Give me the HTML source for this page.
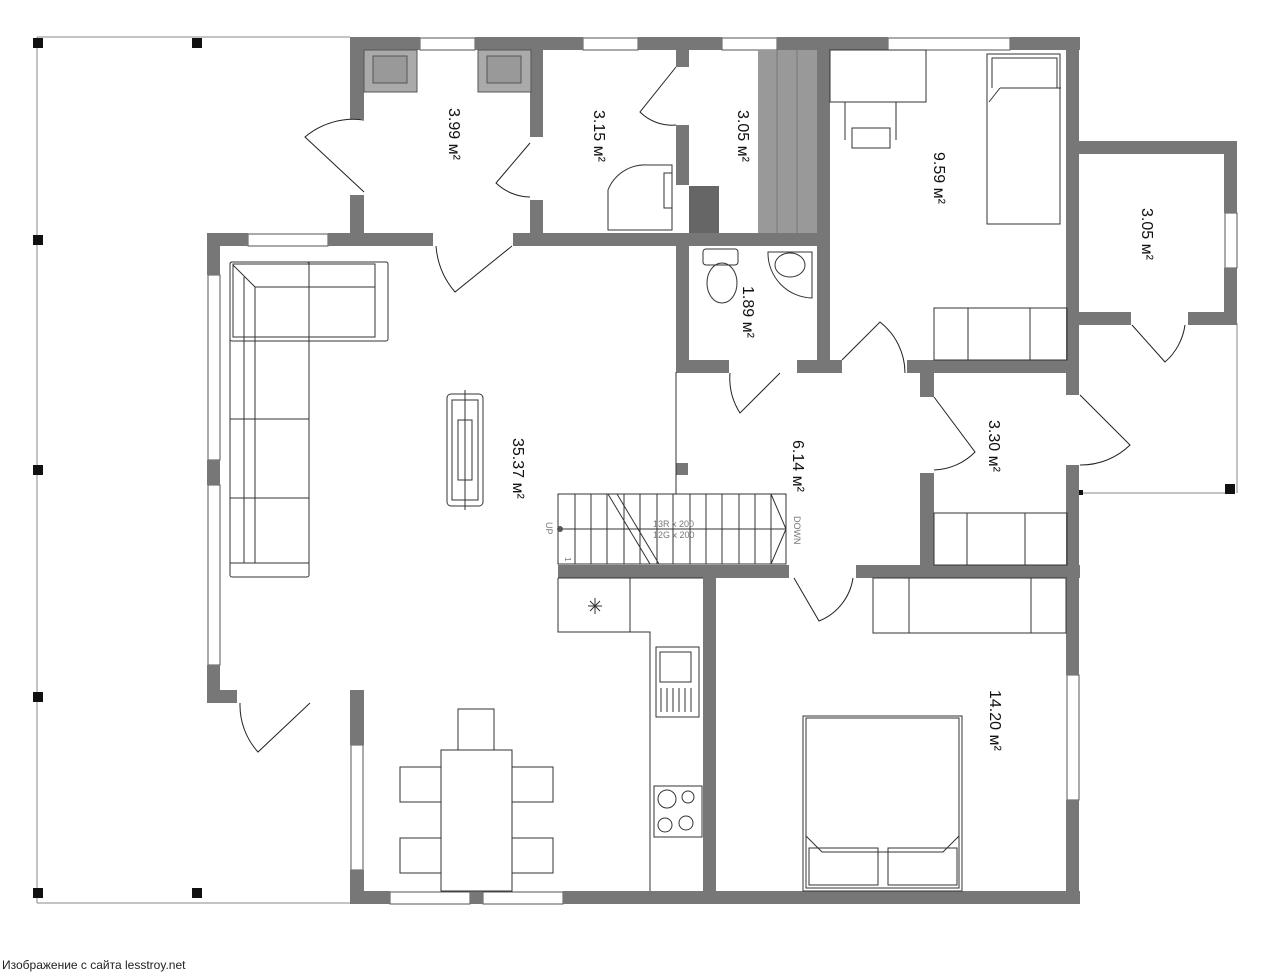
<!DOCTYPE html>
<html><head><meta charset="utf-8"><style>
html,body{margin:0;padding:0;background:#fff;width:1280px;height:977px;overflow:hidden}
svg{display:block}
text{font-family:"Liberation Sans",sans-serif}
</style></head><body>
<svg width="1280" height="977" viewBox="0 0 1280 977" xmlns="http://www.w3.org/2000/svg">
<g stroke="#888" stroke-width="1" fill="none">
<line x1="37" y1="37" x2="350" y2="37"/><line x1="37" y1="37" x2="37" y2="903"/><line x1="37" y1="903" x2="350" y2="903"/>
<line x1="1237" y1="323" x2="1237" y2="493"/><line x1="1080" y1="493" x2="1230" y2="493"/>
</g>
<g fill="#111">
<rect x="33" y="38" width="10" height="10"/><rect x="192" y="38" width="10" height="10"/>
<rect x="33" y="235" width="10" height="10"/><rect x="33" y="465" width="10" height="10"/>
<rect x="33" y="692" width="10" height="10"/><rect x="33" y="888" width="10" height="10"/>
<rect x="192" y="888" width="10" height="10"/><rect x="1225" y="484" width="10" height="10"/>
<rect x="1078" y="490" width="5" height="5"/>
</g>
<g fill="#fff" stroke="#555" stroke-width="1">
<rect x="420" y="38" width="55" height="12"/><rect x="583" y="38" width="55" height="12"/>
<rect x="722" y="38" width="55" height="12"/><rect x="888" y="38" width="122" height="12"/>
<rect x="248" y="234" width="80" height="12"/>
<rect x="208" y="275" width="12" height="185"/><rect x="208" y="485" width="12" height="180"/>
<rect x="351" y="745" width="12" height="125"/>
<rect x="390" y="892" width="80" height="12"/><rect x="483" y="892" width="80" height="12"/>
<rect x="1067" y="675" width="12" height="125"/><rect x="1225" y="213" width="12" height="55"/>
</g>
<g fill="#777">
<rect x="350" y="37" width="70" height="13"/><rect x="475" y="37" width="108" height="13"/>
<rect x="638" y="37" width="84" height="13"/><rect x="777" y="37" width="111" height="13"/>
<rect x="1010" y="37" width="70" height="13"/>
<rect x="350" y="37" width="14" height="82"/><rect x="350" y="195" width="14" height="51"/>
<rect x="207" y="233" width="41" height="13"/><rect x="328" y="233" width="105" height="13"/>
<rect x="513" y="233" width="176" height="13"/>
<rect x="207" y="233" width="13" height="42"/><rect x="207" y="460" width="13" height="25"/>
<rect x="207" y="665" width="13" height="38"/>
<rect x="207" y="690" width="30" height="13"/><rect x="350" y="690" width="14" height="13"/>
<rect x="350" y="690" width="14" height="55"/><rect x="350" y="870" width="14" height="34"/>
<rect x="350" y="891" width="40" height="13"/><rect x="470" y="891" width="13" height="13"/>
<rect x="563" y="891" width="517" height="13"/>
<rect x="1066" y="37" width="13" height="358"/><rect x="1066" y="465" width="13" height="210"/>
<rect x="1066" y="800" width="13" height="104"/>
<rect x="1066" y="141" width="171" height="13"/><rect x="1224" y="141" width="13" height="72"/>
<rect x="1224" y="268" width="13" height="57"/>
<rect x="1066" y="312" width="65" height="13"/><rect x="1188" y="312" width="49" height="13"/>
<rect x="530" y="37" width="13" height="100"/><rect x="530" y="200" width="13" height="46"/>
<rect x="676" y="37" width="13" height="30"/><rect x="676" y="125" width="13" height="60"/>
<rect x="676" y="233" width="13" height="139"/>
<rect x="676" y="233" width="154" height="13"/>
<rect x="817" y="37" width="13" height="335"/>
<rect x="676" y="360" width="53" height="13"/><rect x="797" y="360" width="45" height="13"/>
<rect x="907" y="360" width="172" height="13"/>
<rect x="920" y="372" width="14" height="25"/><rect x="920" y="473" width="14" height="105"/>
<rect x="920" y="565" width="147" height="13"/>
<rect x="558" y="565" width="231" height="13"/><rect x="856" y="565" width="224" height="13"/>
<rect x="703" y="578" width="13" height="313"/>
<rect x="676" y="463" width="12" height="12"/>
</g>
<g fill="#aaa" stroke="#555"><rect x="364" y="50" width="53" height="42"/><rect x="478" y="50" width="53" height="42"/></g>
<g fill="#999" stroke="#555"><rect x="373" y="56" width="34" height="27"/><rect x="487" y="56" width="34" height="27"/></g>
<rect x="758" y="50" width="59" height="183" fill="#999"/>
<g stroke="#777"><line x1="777" y1="50" x2="777" y2="233"/><line x1="797" y1="50" x2="797" y2="233"/></g>
<rect x="689" y="186" width="30" height="47" fill="#666"/>
<g fill="none" stroke="#222" stroke-width="1">
<path d="M364 192 L305 137 A75 75 0 0 1 364 120"/>
<path d="M530 143 L496 183 A50 50 0 0 0 530 197"/>
<path d="M676 67 L640 112 A45 45 0 0 0 676 125"/>
<path d="M436 246 A80 80 0 0 0 455 292 L512 246"/>
<path d="M730 373 A65 65 0 0 0 740 413 L780 373"/>
<path d="M905 373 A65 65 0 0 0 880 322 L842 360"/>
<path d="M934 397 L975 452 A60 60 0 0 1 934 470"/>
<path d="M1080 395 L1130 445 A70 70 0 0 1 1080 465"/>
<path d="M1132 325 L1165 362 A60 60 0 0 0 1185 325"/>
<path d="M794 578 L819 621 A55 55 0 0 0 853 578"/>
<path d="M310 703 L258 752 A70 70 0 0 1 240 703"/>
</g>
<g fill="none" stroke="#333" stroke-width="1">
<rect x="230" y="262" width="158" height="79" rx="2"/><rect x="230" y="262" width="79" height="315" rx="2"/>
<rect x="233" y="264" width="142" height="73"/>
<line x1="233" y1="265" x2="255" y2="287"/><line x1="255" y1="287" x2="375" y2="287"/><line x1="255" y1="287" x2="255" y2="563"/>
<line x1="244" y1="277" x2="244" y2="563"/><line x1="309" y1="262" x2="309" y2="337"/>
<line x1="230" y1="419" x2="309" y2="419"/><line x1="230" y1="498" x2="309" y2="498"/><line x1="230" y1="563" x2="309" y2="563"/>
<rect x="447" y="394" width="36" height="112" rx="4"/><rect x="452" y="400" width="26" height="100"/>
<rect x="458" y="420" width="14" height="60"/><line x1="465" y1="390" x2="465" y2="510"/>
<rect x="441" y="750" width="71" height="141"/><rect x="458" y="709" width="36" height="41"/>
<rect x="400" y="767" width="41" height="35"/><rect x="400" y="838" width="41" height="35"/>
<rect x="512" y="767" width="41" height="35"/><rect x="512" y="838" width="41" height="35"/>
<path d="M558 578 L703 578 M558 578 L558 632 L650 632 L650 891"/>
<line x1="630" y1="578" x2="630" y2="632"/>
<path d="M588 606 L602 606 M595 598 L595 614 M590 601 L600 611 M600 601 L590 611"/>
<rect x="656" y="647" width="43" height="70"/><rect x="660" y="652" width="31" height="30"/>
<path d="M661 688 V712 M667 688 V712 M673 688 V712 M679 688 V712 M685 688 V712 M691 688 V712"/>
<rect x="654" y="786" width="48" height="51"/>
<circle cx="667" cy="799" r="9"/><circle cx="688" cy="797" r="6"/><circle cx="665" cy="825" r="7"/><circle cx="686" cy="823" r="7"/>
<rect x="558" y="494" width="228" height="70"/>
<line x1="558" y1="529" x2="786" y2="529"/>
<path d="M575 494V564M591 494V564M607 494V564M624 494V564M640 494V564M657 494V564M673 494V564M690 494V564M706 494V564M722 494V564M739 494V564M755 494V564M771 494V564"/>
<path d="M608 494 L650 564 M617 494 L659 564 M771 494 L786 529 L771 564"/>
<path d="M608 230 L608 190 A40 40 0 0 1 648 165 L672 165 L672 230 Z"/>
<rect x="664" y="173" width="8" height="35"/>
<rect x="703" y="249" width="35" height="16" rx="3"/><ellipse cx="722" cy="283" rx="15" ry="20"/>
<path d="M768 252 L812 252 L812 298 A45 45 0 0 1 768 252 Z"/><ellipse cx="790" cy="265" rx="15" ry="12"/>
<rect x="830" y="50" width="96" height="52"/><path d="M845 102 V140 M896 102 V140 M852 128 H890 V148 H852 Z"/>
<rect x="987" y="54" width="73" height="170"/><path d="M992 88 L992 58 L1057 58 L1057 88 M1000 88 H1061 M1000 88 L989 102"/>
<rect x="934" y="308" width="133" height="52"/><path d="M968 308V360M1030 308V360"/>
<rect x="934" y="513" width="133" height="52"/><path d="M967 513V565M1025 513V565"/>
<rect x="873" y="578" width="193" height="55"/><path d="M909 578V633M1031 578V633"/>
<rect x="803" y="716" width="159" height="175"/><rect x="806" y="718" width="153" height="170"/>
<path d="M806 836 L822 852 L943 852 L959 836"/>
<rect x="809" y="848" width="69" height="37"/><rect x="888" y="848" width="69" height="37"/>
<line x1="676" y1="372" x2="676" y2="494"/>
</g>
<g fill="#555"><circle cx="560" cy="529" r="3"/></g>
<g font-size="9" fill="#777" font-family="Liberation Sans">
<text x="653" y="527">13R x 200</text><text x="653" y="538">12G x 200</text>
<text transform="translate(794,516) rotate(90)">DOWN</text>
<text transform="translate(546,522) rotate(90)">UP</text>
<text transform="translate(565,557) rotate(90)" font-size="8">1</text>
</g>
<g font-size="16" fill="#111">
<text transform="translate(449,108) rotate(90)">3.99 м²</text>
<text transform="translate(594,110) rotate(90)">3.15 м²</text>
<text transform="translate(738,110) rotate(90)">3.05 м²</text>
<text transform="translate(934,152) rotate(90)">9.59 м²</text>
<text transform="translate(1142,208) rotate(90)">3.05 м²</text>
<text transform="translate(743,286) rotate(90)">1.89 м²</text>
<text transform="translate(513,438) rotate(90)">35.37 м²</text>
<text transform="translate(793,440) rotate(90)">6.14 м²</text>
<text transform="translate(989,420) rotate(90)">3.30 м²</text>
<text transform="translate(990,690) rotate(90)">14.20 м²</text>
</g>
<text x="2" y="969" font-size="12" fill="#222">Изображение с сайта lesstroy.net</text>
</svg>
</body></html>
